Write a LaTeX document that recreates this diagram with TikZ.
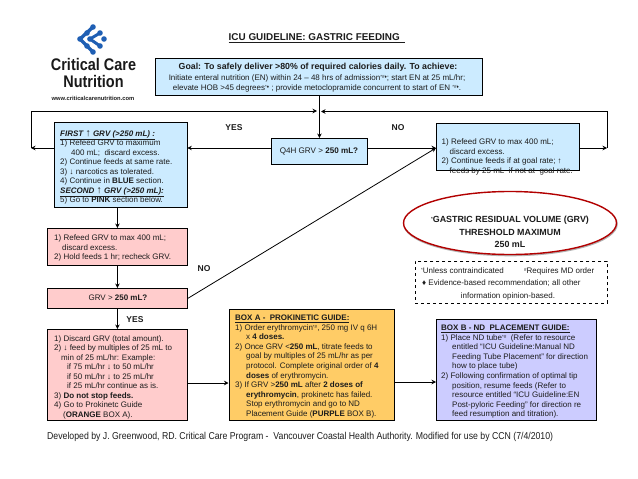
\documentclass[tikz,border=0pt]{standalone}
\usepackage{fontspec}
\setmainfont{Liberation Sans}
\usetikzlibrary{arrows.meta,shapes.geometric}
\definecolor{cblue}{HTML}{CCEBFF}
\definecolor{cpink}{HTML}{FFCCCC}
\definecolor{corange}{HTML}{FFCC66}
\definecolor{cpurple}{HTML}{CCCCFF}
\definecolor{cink}{HTML}{1C1C1C}
\definecolor{clogo}{HTML}{1F5FB4}
\newcommand{\sps}[1]{\raisebox{2pt}{\fontsize{4.5}{4}\selectfont #1}}
\newcommand{\bigup}{{\fontsize{10.5}{9}\selectfont ↑}}
\tikzset{
  flowbox/.style={draw=black,line width=0.8pt,inner sep=0pt,rectangle},
  conn/.style={draw=black,line width=0.8pt},
  arr/.style={conn,-{Stealth[length=4.5pt,width=4.5pt]}},
  bt/.style={anchor=north west,inner sep=0pt,align=left,text=cink,font=\fontsize{8}{9.55}\selectfont},
  ct/.style={inner sep=0pt,align=center,text=cink},
  lab/.style={inner sep=0pt,font=\fontsize{8.5}{9}\selectfont\bfseries,text=cink},
  dot/.style={circle,fill=clogo,draw=none,inner sep=0pt,minimum size=5.6pt}
}
% optional, fill, x1, y1, x2, y2, name
\newcommand{\mkbox}[7][]{%
  \pgfmathsetmacro{\bw}{#5-#3}\pgfmathsetmacro{\bh}{#6-#4}%
  \node[flowbox,fill=#2,minimum width=\bw pt,minimum height=\bh pt,anchor=north west,#1] (#7) at (#3,#4) {};}
\begin{document}
\begin{tikzpicture}[x=1pt,y=-1pt]
\useasboundingbox (0,0) rectangle (638,479);
% logo
\draw[clogo,line width=3.4pt,line cap=round] (93,27)--(80,39)--(93,52);
\draw[clogo,line width=3pt,line cap=round] (100,33)--(90,39)--(100,46);
\foreach \i/\p in {a/{(93,27)},b/{(87,33)},c/{(80,39)},d/{(87,46)},e/{(93,52)},f/{(100,33)},g/{(90,39)},h/{(100,46)},k/{(104,39)}}
  \node[dot] (logo\i) at \p {};
\node[inner sep=0pt,text=black!90] (logoname) at (93.5,75) {\scalebox{0.86}[1]{\fontsize{16.8}{14}\selectfont\bfseries\begin{tabular}{@{}c@{}}Critical Care\\Nutrition\end{tabular}}};
\node[inner sep=0pt,text=cink] (logoweb) at (93,98.5) {\fontsize{5.8}{6}\selectfont\bfseries www.criticalcarenutrition.com};
% title
\node[ct] (title) at (317,38) {\fontsize{9.9}{11}\selectfont\bfseries\underline{ICU GUIDELINE: GASTRIC FEEDING\ \ }};
% boxes
\mkbox{cblue}{154.5}{58}{482}{95}{goal}
\mkbox{cblue}{271}{138}{367}{164}{q}
\mkbox{cblue}{53.5}{122}{186.5}{207}{bl}
\mkbox{cblue}{436}{122.5}{579}{170}{br}
\mkbox{cpink}{47}{228}{187}{265}{pa}
\mkbox{cpink}{47}{288}{187}{308}{pb}
\mkbox{cpink}{47}{329}{187}{420}{pc}
\mkbox{corange}{228.5}{308.5}{394}{420}{boxa}
\mkbox{cpurple}{436}{319}{596}{420}{boxb}
% ellipse
\draw[black!30,line width=1.6pt] (510.5,224) ellipse [x radius=106.5,y radius=31.5];
\node[draw=red!70!black,line width=1.4pt,ellipse,minimum width=213pt,minimum height=63pt,inner sep=0pt,fill=white] (ell) at (510,223) {};
% legend
\node[draw=black,line width=0.8pt,dashed,minimum width=192pt,minimum height=42pt,inner sep=0pt,anchor=north west] (leg) at (415,261) {};
% goal text
\node[ct,font=\fontsize{8.8}{10}\selectfont\bfseries] (t1) at (318,67.5) {Goal: To safely deliver >80\% of required calories daily. To achieve:};
\node[ct,font=\fontsize{8}{9}\selectfont] (t2) at (317,78) {Initiate enteral nutrition (EN) within 24 – 48 hrs of admission\sps{*\#♦}; start EN at 25 mL/hr;};
\node[ct,font=\fontsize{8}{9}\selectfont] (t3) at (317,88) {elevate HOB >45 degrees\sps{*♦} ; provide metoclopramide concurrent to start of EN \sps{*\#♦}.};
% Q text
\node[ct,font=\fontsize{8.1}{9}\selectfont] (t4) at (319,151) {Q4H GRV > \textbf{250 mL?}};
% blue left
\node[bt] (t5) at (60,130) {\underline{\textbf{\textit{FIRST \bigup{} GRV (>250 mL) :}}}\\
1) Refeed GRV to maximum\\
\hspace*{11pt}400 mL;\ \ discard excess.\\
2) Continue feeds at same rate.\\
3) ↓ narcotics as tolerated.\\
4) Continue in \textbf{BLUE} section.\\
\underline{\textbf{\textit{SECOND \bigup{} GRV (>250 mL):}}}\\
5) Go to \textbf{PINK} section below.};
% blue right
\node[bt] (t6) at (441.5,138.5) {1) Refeed GRV to max 400 mL;\\
\hspace*{8pt}discard excess.\\
2) Continue feeds if at goal rate; ↑\\
\hspace*{8pt}feeds by 25 mL\ \ if not at\ \ goal rate.};
% pink
\node[bt] (t7) at (54,234.5) {1) Refeed GRV to max 400 mL;\\
\hspace*{8pt}discard excess.\\
2) Hold feeds 1 hr; recheck GRV.};
\node[ct,font=\fontsize{8}{9}\selectfont] (t8) at (118,298) {GRV > \textbf{250 mL?}};
\node[bt] (t9) at (54,335) {1) Discard GRV (total amount).\\
2) ↓ feed by multiples of 25 mL to\\
\hspace*{7pt}min of 25 mL/hr: Example:\\
\hspace*{13pt}if 75 mL/hr ↓ to 50 mL/hr\\
\hspace*{13pt}if 50 mL/hr ↓ to 25 mL/hr\\
\hspace*{13pt}if 25 mL/hr continue as is.\\
3) \textbf{Do not stop feeds.}\\
4) Go to Prokinetc Guide\\
\hspace*{9pt}(\textbf{ORANGE} BOX A).};
% box A
\node[bt] (t10) at (235,315) {\underline{\textbf{BOX A -\ \ PROKINETIC GUIDE:}}\\
1) Order erythromycin\sps{*\#}, 250 mg IV q 6H\\
\hspace*{11pt}x \textbf{4 doses.}\\
2) Once GRV <\textbf{250 mL}, titrate feeds to\\
\hspace*{11pt}goal by multiples of 25 mL/hr as per\\
\hspace*{11pt}protocol. Complete original order of \textbf{4}\\
\hspace*{11pt}\textbf{doses} of erythromycin.\\
3) If GRV >\textbf{250 mL} after \textbf{2 doses of}\\
\hspace*{11pt}\textbf{erythromycin}, prokinetc has failed.\\
\hspace*{11pt}Stop erythromycin and go to ND\\
\hspace*{11pt}Placement Guide (\textbf{PURPLE} BOX B).};
% box B
\node[bt] (t11) at (441,325) {\underline{\textbf{BOX B - ND\ \ PLACEMENT GUIDE:}}\\
1) Place ND tube\sps{*\#}\ \ (Refer to resource\\
\hspace*{11pt}entitled “ICU Guideline:Manual ND\\
\hspace*{11pt}Feeding Tube Placement” for direction\\
\hspace*{11pt}how to place tube)\\
2) Following confirmation of optimal tip\\
\hspace*{11pt}position, resume feeds (Refer to\\
\hspace*{11pt}resource entitled “ICU Guideline:EN\\
\hspace*{11pt}Post-pyloric Feeding” for direction re\\
\hspace*{11pt}feed resumption and titration).};
% ellipse text
\node[ct,font=\fontsize{8.9}{12.4}\selectfont\bfseries] (t12) at (510,232) {\sps{*}GASTRIC RESIDUAL VOLUME (GRV)\\THRESHOLD MAXIMUM\\250 mL};
% legend text
\node[ct,anchor=west,font=\fontsize{8}{9}\selectfont] (t13) at (421,271) {\sps{*}Unless contraindicated};
\node[ct,anchor=west,font=\fontsize{8}{9}\selectfont] (t14) at (524,271) {\sps{\#}Requires MD order};
\node[ct,anchor=west,font=\fontsize{8}{9}\selectfont] (t15) at (422,283) {♦ Evidence-based recommendation; all other};
\node[ct,font=\fontsize{8}{9}\selectfont] (t16) at (508,296) {information opinion-based.};
% labels
\node[lab] (yes1) at (234,128) {YES};
\node[lab] (no1) at (398,128) {NO};
\node[lab] (no2) at (204,269) {NO};
\node[lab] (yes2) at (135,320) {YES};
% footer
\node[inner sep=0pt,text=cink,anchor=west] (foot) at (47,437) {\scalebox{0.872}[1]{\fontsize{10}{12}\selectfont Developed by J. Greenwood, RD. Critical Care Program -\ \ Vancouver Coastal Health Authority. Modified for use by CCN (7/4/2010)}};
% connector corners
\coordinate (yq) at (0,148);
\coordinate (ya) at (0,383);
\coordinate (yb) at (0,382);
\coordinate (cL) at (31,148);
\coordinate (cLt) at (31,111);
\coordinate (cRt) at (607,111.5);
\coordinate (cR) at (607,148);
\coordinate (mL) at (317,111);
\coordinate (mR) at (321,111.5);
% connectors
\draw[arr] (goal.south -| q.north) -- (q.north);
\draw[arr] (q.west |- yq) -- (bl.east |- yq);
\draw[arr] (q.east |- yq) -- (br.west |- yq);
\draw[arr] (bl.west |- yq) -- (cL);
\draw[arr] (cL) -- (cLt) -- (mL);
\draw[arr] (br.east |- yq) -- (cR);
\draw[arr] (cR) -- (cRt) -- (mR);
\draw[arr] (bl.south -| pa.north) -- (pa.north);
\draw[arr] (pa.south) -- (pb.north);
\draw[arr] (pb.south) -- (pc.north);
\draw[arr] (pb.east) -- (br.west |- yq);
\draw[arr] (pc.east |- ya) -- (boxa.west |- ya);
\draw[arr] (boxa.east |- yb) -- (boxb.west |- yb);
\end{tikzpicture}
\end{document}
